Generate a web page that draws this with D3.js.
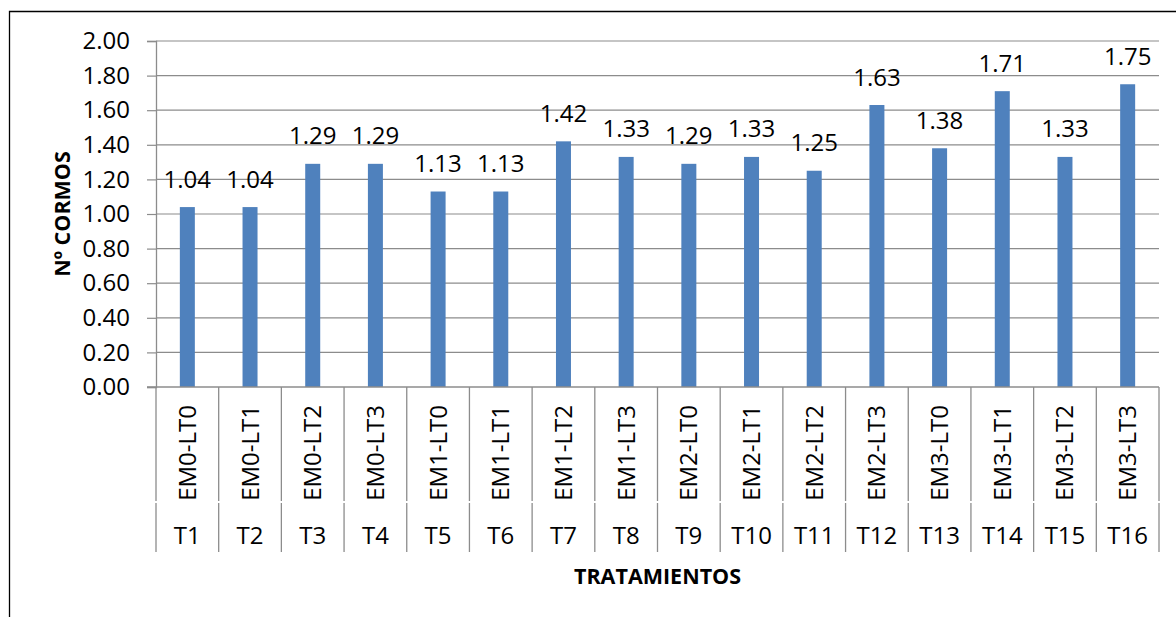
<!DOCTYPE html>
<html lang="es">
<head>
    <meta charset="UTF-8">
    <title>Nº Cormos por tratamiento</title>
    <script src="https://cdnjs.cloudflare.com/ajax/libs/d3/7.8.5/d3.min.js"></script>
    <style>
        body {
            margin: 0;
            background: #fff;
        }
        svg text {
            font-family: "Open Sans", "DejaVu Sans", sans-serif;
            fill: #000;
        }
    </style>
</head>
<body>
    <svg id="chart" width="1176" height="617"></svg>

    <script>
        // data
        const treatments = ["T1", "T2", "T3", "T4", "T5", "T6", "T7", "T8",
                            "T9", "T10", "T11", "T12", "T13", "T14", "T15", "T16"];
        const combos = ["EM0-LT0", "EM0-LT1", "EM0-LT2", "EM0-LT3",
                        "EM1-LT0", "EM1-LT1", "EM1-LT2", "EM1-LT3",
                        "EM2-LT0", "EM2-LT1", "EM2-LT2", "EM2-LT3",
                        "EM3-LT0", "EM3-LT1", "EM3-LT2", "EM3-LT3"];
        const cormos = [1.04, 1.04, 1.29, 1.29, 1.13, 1.13, 1.42, 1.33,
                        1.29, 1.33, 1.25, 1.63, 1.38, 1.71, 1.33, 1.75];
        const yTicks = [0, 0.2, 0.4, 0.6, 0.8, 1.0, 1.2, 1.4, 1.6, 1.8, 2.0];

        const svg = d3.select("#chart");

        const plotLeft = 156, plotRight = 1159, plotTop = 41, plotBase = 387;
        const labelSize = 24;

        // chart border (cut at the right and bottom)
        svg.append("path")
            .attr("d", "M1176,11.5 H9.5 V617")
            .attr("fill", "none")
            .attr("stroke", "#000")
            .attr("stroke-width", 1.3);

        const x = d3.scaleBand()
            .domain(treatments)
            .range([plotLeft, plotRight])
            .padding(0);

        const y = d3.scaleLinear()
            .domain([0, 2])
            .range([plotBase, plotTop]);

        const fmt = d3.format(".2f");

        // gridlines
        svg.append("g")
            .selectAll("line")
            .data(yTicks.filter(d => d > 0))
            .join("line")
            .attr("x1", plotLeft)
            .attr("x2", plotRight)
            .attr("y1", d => y(d))
            .attr("y2", d => y(d))
            .attr("stroke", "#8c8c8c")
            .attr("stroke-width", 1.2);

        // y axis
        const yAxis = svg.append("g")
            .attr("transform", `translate(${plotLeft},0)`)
            .call(d3.axisLeft(y).tickValues(yTicks).tickFormat(fmt).tickSize(9).tickPadding(17));
        yAxis.select(".domain").attr("stroke", "#8c8c8c").attr("stroke-width", 1.3);
        yAxis.selectAll(".tick line").attr("stroke", "#8c8c8c").attr("stroke-width", 1.2);
        yAxis.selectAll(".tick text")
            .attr("font-size", labelSize)
            .attr("font-family", "'Open Sans', sans-serif")
            .attr("fill", "#000")
            .attr("dy", "0.32em");

        // bars
        const barW = 15;
        svg.append("g")
            .selectAll("rect")
            .data(cormos)
            .join("rect")
            .attr("x", (d, i) => x(treatments[i]) + x.bandwidth() / 2 - barW / 2)
            .attr("y", d => y(d))
            .attr("width", barW)
            .attr("height", d => y(0) - y(d))
            .attr("fill", "#4f81bd");

        // data labels
        svg.append("g")
            .selectAll("text")
            .data(cormos)
            .join("text")
            .attr("x", (d, i) => x(treatments[i]) + x.bandwidth() / 2)
            .attr("y", d => y(d) - 19.5)
            .attr("text-anchor", "middle")
            .attr("font-size", labelSize)
            .text(d => fmt(d));

        // x axis line
        svg.append("line")
            .attr("x1", plotLeft - 9)
            .attr("x2", plotRight)
            .attr("y1", plotBase)
            .attr("y2", plotBase)
            .attr("stroke", "#8c8c8c")
            .attr("stroke-width", 1.3);

        // category separators (two levels)
        const edges = treatments.map(t => x(t)).concat([plotRight]);
        const sep = svg.append("g").attr("stroke", "#8c8c8c").attr("stroke-width", 1.3);
        sep.selectAll("line.inner")
            .data(edges)
            .join("line")
            .attr("class", "inner")
            .attr("x1", d => d).attr("x2", d => d)
            .attr("y1", plotBase).attr("y2", 501);
        sep.selectAll("line.outer")
            .data(edges)
            .join("line")
            .attr("class", "outer")
            .attr("x1", d => d).attr("x2", d => d)
            .attr("y1", 503).attr("y2", 552);

        // inner level: rotated labels
        svg.append("g")
            .selectAll("text")
            .data(combos)
            .join("text")
            .attr("transform", (d, i) =>
                `translate(${x(treatments[i]) + x.bandwidth() / 2 + 8.5},405) rotate(-90)`)
            .attr("text-anchor", "end")
            .attr("font-size", labelSize)
            .text(d => d);

        // outer level: treatment labels
        svg.append("g")
            .selectAll("text")
            .data(treatments)
            .join("text")
            .attr("x", d => x(d) + x.bandwidth() / 2)
            .attr("y", 544)
            .attr("text-anchor", "middle")
            .attr("font-size", labelSize)
            .text(d => d);

        // axis titles
        svg.append("text")
            .attr("x", (plotLeft + plotRight) / 2)
            .attr("y", 584)
            .attr("text-anchor", "middle")
            .attr("font-size", 21.5)
            .attr("font-weight", "bold")
            .text("TRATAMIENTOS");

        svg.append("text")
            .attr("transform", `translate(70,${(plotTop + plotBase) / 2}) rotate(-90)`)
            .attr("text-anchor", "middle")
            .attr("font-size", 21.5)
            .attr("font-weight", "bold")
            .text("Nº CORMOS");
    </script>
</body>
</html>
